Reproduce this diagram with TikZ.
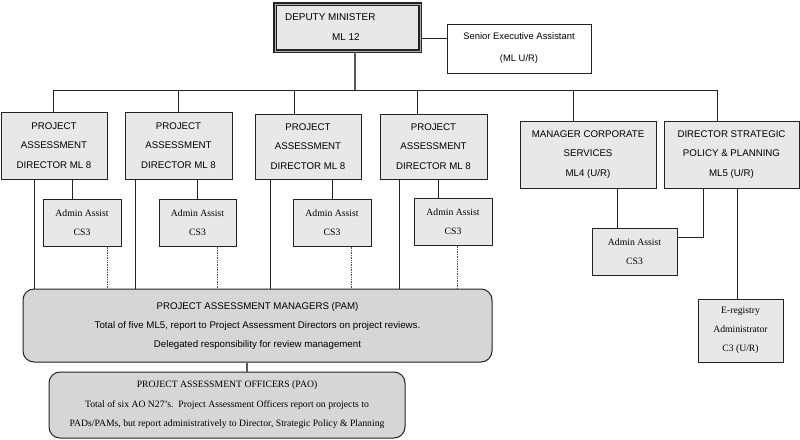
\documentclass[tikz,border=0pt]{standalone}
\usepackage{fontspec}
\setmainfont{Liberation Serif}
\newfontfamily\arialf{Liberation Sans}
\definecolor{boxfill}{HTML}{E8E8E8}
\definecolor{bigfill}{HTML}{D6D6D6}
\definecolor{edgecol}{HTML}{222222}
\begin{document}
\begin{tikzpicture}[x=1pt,y=-1pt,
  base/.style={draw=edgecol, line width=1pt, inner sep=0pt, align=center},
  sansbox/.style={base, fill=boxfill, font=\arialf\fontsize{9.7}{19.5}\selectfont},
  serifbox/.style={base, fill=boxfill, font=\fontsize{9.7}{19.2}\selectfont},
  roundbox/.style={base, fill=bigfill, rounded corners=11pt},
  link/.style={draw=edgecol, line width=0.9pt},
  dotlink/.style={draw=black!70, line width=0.7pt, densely dotted}]
\useasboundingbox (0,0) rectangle (800,439);
% Deputy Minister
\node[base, fill=boxfill, line width=1.5pt, double=gray!60, double distance=1pt,
      minimum width=145pt, minimum height=47pt] (dm) at (347.5,27.5) {};
\node[anchor=west, inner sep=0pt, font=\arialf\fontsize{9.9}{12}\selectfont] (dmt1) at (285,17) {DEPUTY MINISTER};
\node[anchor=west, inner sep=0pt, font=\arialf\fontsize{9.9}{12}\selectfont] (dmt2) at (332,37) {ML 12};
\node[sansbox, fill=white, minimum width=144pt, minimum height=49pt,
      font=\arialf\fontsize{9.4}{22}\selectfont] (sea) at (519,48.5)
      {Senior Executive Assistant\\(ML U/R)};
% Directors
\node[sansbox, minimum width=106pt, minimum height=67pt] (pad1) at (54,145.5)
  {PROJECT\\ASSESSMENT\\DIRECTOR ML 8};
\node[sansbox, minimum width=107pt, minimum height=67pt] (pad2) at (178.5,145.5)
  {PROJECT\\ASSESSMENT\\DIRECTOR ML 8};
\node[sansbox, minimum width=106pt, minimum height=65pt] (pad3) at (308,146.5)
  {PROJECT\\ASSESSMENT\\DIRECTOR ML 8};
\node[sansbox, minimum width=107pt, minimum height=65pt] (pad4) at (433.5,146.5)
  {PROJECT\\ASSESSMENT\\DIRECTOR ML 8};
\node[sansbox, minimum width=136pt, minimum height=67pt] (mcs) at (588,154.5)
  {MANAGER CORPORATE\\SERVICES\\ML4 (U/R)};
\node[sansbox, minimum width=135pt, minimum height=67pt] (dsp) at (731.5,154.5)
  {DIRECTOR STRATEGIC\\POLICY \& PLANNING\\ML5 (U/R)};
% Admin assists
\node[serifbox, minimum width=78pt, minimum height=47pt] (a1) at (82,222.5) {Admin Assist\\CS3};
\node[serifbox, minimum width=77pt, minimum height=47pt] (a2) at (197.5,222.5) {Admin Assist\\CS3};
\node[serifbox, minimum width=78pt, minimum height=47pt] (a3) at (332,222.5) {Admin Assist\\CS3};
\node[serifbox, minimum width=78pt, minimum height=47pt] (a4) at (453,221.5) {Admin Assist\\CS3};
\node[serifbox, minimum width=85pt, minimum height=47pt] (a5) at (634.5,251.5) {Admin Assist\\CS3};
\node[serifbox, minimum width=85pt, minimum height=63pt] (ereg) at (740.5,330.5)
  {E-registry\\Administrator\\C3 (U/R)};
% PAM / PAO
\node[roundbox, minimum width=469pt, minimum height=73pt,
      font=\arialf\fontsize{9.7}{19}\selectfont] (pam) at (257.5,325.5)
  {PROJECT ASSESSMENT MANAGERS (PAM)\\
   Total of five ML5, report to Project Assessment Directors on project reviews.\\
   Delegated responsibility for review management};
\node[roundbox, minimum width=356pt, minimum height=66pt,
      font=\fontsize{9.7}{19.5}\selectfont] (pao) at (227,405)
  {PROJECT ASSESSMENT OFFICERS (PAO)\\
   Total of six AO N27's.\ \ Project Assessment Officers report on projects to\\
   PADs/PAMs, but report administratively to Director, Strategic Policy \& Planning};
% coordinates
\coordinate (top) at (355,90);
\coordinate (d1) at (53,90);
\coordinate (d2) at (178,90);
\coordinate (d3) at (294,90);
\coordinate (d4) at (417,90);
\coordinate (d5) at (573,90);
\coordinate (d6) at (717,90);
\coordinate (sy) at (0,38);
\coordinate (v1) at (34,0);
\coordinate (v2) at (135,0);
\coordinate (v3) at (270,0);
\coordinate (v4) at (399,0);
\coordinate (c1) at (72,0);
\coordinate (c2) at (197,0);
\coordinate (c3) at (332,0);
\coordinate (c4) at (438,0);
\coordinate (t1) at (107,0);
\coordinate (t2) at (217,0);
\coordinate (t3) at (351,0);
\coordinate (t4) at (457,0);
\coordinate (m1) at (617,0);
\coordinate (m2) at (703,237);
\coordinate (m3) at (737,0);
\coordinate (p1) at (247,0);
% connectors
\draw[link, line width=1.3pt, draw=black!65] (dm.south -| top) -- (top);
\draw[link] (dm.east |- sy) -- (sea.west |- sy);
\draw[link] (d1) -- (d6);
\draw[link] (d1) -- (pad1.north -| d1);
\draw[link] (d2) -- (pad2.north -| d2);
\draw[link] (d3) -- (pad3.north -| d3);
\draw[link] (d4) -- (pad4.north -| d4);
\draw[link] (d5) -- (mcs.north -| d5);
\draw[link] (d6) -- (dsp.north -| d6);
\draw[link] (pad1.south -| v1) -- (pam.north -| v1);
\draw[link] (pad2.south -| v2) -- (pam.north -| v2);
\draw[link] (pad3.south -| v3) -- (pam.north -| v3);
\draw[link] (pad4.south -| v4) -- (pam.north -| v4);
\draw[link] (pad1.south -| c1) -- (a1.north -| c1);
\draw[link] (pad2.south -| c2) -- (a2.north -| c2);
\draw[link] (pad3.south -| c3) -- (a3.north -| c3);
\draw[link] (pad4.south -| c4) -- (a4.north -| c4);
\draw[dotlink] (a1.south -| t1) -- (pam.north -| t1);
\draw[dotlink] (a2.south -| t2) -- (pam.north -| t2);
\draw[dotlink] (a3.south -| t3) -- (pam.north -| t3);
\draw[dotlink] (a4.south -| t4) -- (pam.north -| t4);
\draw[link] (mcs.south -| m1) -- (a5.north -| m1);
\draw[link] (dsp.south -| m2) -- (m2) -- (a5.east |- m2);
\draw[link] (dsp.south -| m3) -- (ereg.north -| m3);
\draw[link, line width=1.3pt, draw=black!65] (pam.south -| p1) -- (pao.north -| p1);
\end{tikzpicture}
\end{document}
